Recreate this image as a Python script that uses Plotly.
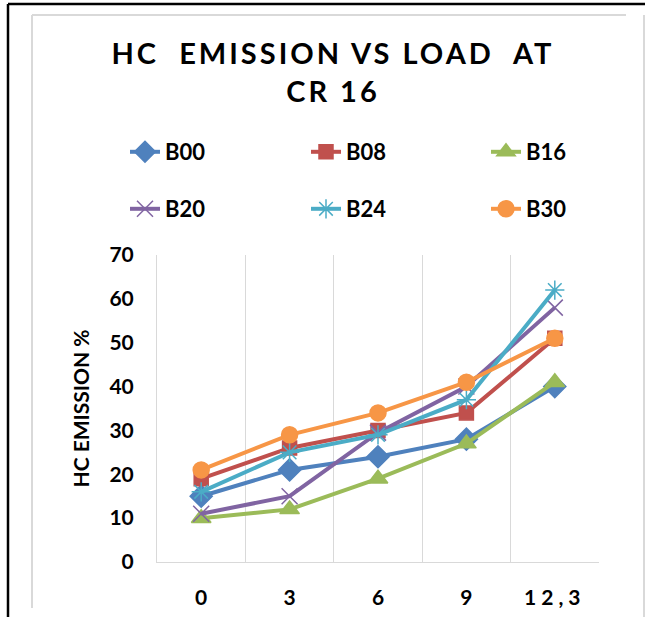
import plotly.graph_objects as go

loads = ["0", "3", "6", "9", "12,3"]
b00 = [15, 21, 24, 28, 40]
b08 = [19, 26, 30, 34, 51]
b16 = [10, 12, 19, 27, 41]
b20 = [11, 15, 29.5, 40, 58]
b24 = [16, 25, 29, 37, 62]
b30 = [21, 29, 34, 41, 51]
y_ticks = [0, 10, 20, 30, 40, 50, 60, 70]

W, H = 645, 617
L, R, T, B = 157, 46, 255, 55
PW, PH = W - L - R, H - T - B
FONT = "Lato"

def px(x):
    return (x - L) / PW

def py(y):
    return (H - B - y) / PH

series = [
    ("B00", b00, "#4F81BD", "diamond", 17),
    ("B08", b08, "#C0504D", "square", 14),
    ("B16", b16, "#9BBB59", "triangle-up", 17),
    ("B20", b20, "#8064A2", "x-thin-open", 16),
    ("B24", b24, "#4BACC6", "asterisk-open", 16),
    ("B30", b30, "#F79646", "circle", 16),
]
# legend item anchor positions (pixels): column x, row y
leg_x = [125, 306, 486, 125, 306, 486]
leg_y = [152, 152, 152, 209, 209, 209]

fig = go.Figure()
legends = {}
for i, (name, vals, col, sym, size) in enumerate(series):
    key = "legend" if i == 0 else f"legend{i + 1}"
    fig.add_trace(go.Scatter(
        x=loads, y=vals, name=name, mode="lines+markers",
        line=dict(color=col, width=4),
        marker=dict(symbol=sym, size=size, color=col,
                    line=dict(color=col, width=1.5)),
        legend=key, showlegend=True,
    ))
    legends[key] = dict(
        orientation="h", xref="container", yref="container",
        xanchor="left", yanchor="middle",
        x=leg_x[i] / W, y=1 - leg_y[i] / H,
        font=dict(family=FONT, size=22, color="black", weight="bold"),
        bgcolor="rgba(0,0,0,0)", itemclick=False, itemdoubleclick=False,
    )

shapes = []
black = dict(color="black", width=2.5)
gray = dict(color="#D9D9D9", width=2)
shapes.append(dict(type="line", xref="paper", yref="paper",
                   x0=px(8), x1=px(8), y0=py(4), y1=py(617), line=black))
shapes.append(dict(type="line", xref="paper", yref="paper",
                   x0=px(8), x1=px(645), y0=py(4), y1=py(4), line=black))
shapes.append(dict(type="line", xref="paper", yref="paper",
                   x0=px(32), x1=px(32), y0=py(15), y1=py(608), line=gray))
shapes.append(dict(type="line", xref="paper", yref="paper",
                   x0=px(32), x1=px(626), y0=py(15), y1=py(15), line=gray))
shapes.append(dict(type="line", xref="paper", yref="paper",
                   x0=px(644), x1=px(644), y0=py(15), y1=py(617), line=gray))

fig.update_layout(
    width=W, height=H, showlegend=True,
    margin=dict(l=L, r=R, t=T, b=B, autoexpand=False),
    paper_bgcolor="white", plot_bgcolor="white",
    title=dict(
        text="HC  EMISSION VS LOAD  AT<br>CR 16",
        x=333 / W, xanchor="center", xref="container",
        y=1 - 64 / H, yanchor="middle", yref="container",
        font=dict(family=FONT, size=29, color="black", weight="bold"),
    ),
    shapes=shapes,
    xaxis=dict(
        type="category", tickson="boundaries", range=[-0.5, 4.5],
        showgrid=True, gridcolor="#D9D9D9", gridwidth=1,
        showline=True, linecolor="#D9D9D9", linewidth=1,
        ticks="", ticklabelstandoff=17,
        tickfont=dict(family=FONT, size=21, color="black", weight="bold"),
    ),
    yaxis=dict(
        range=[0, 70], tickvals=y_ticks, showgrid=False, zeroline=False,
        showline=True, linecolor="#D9D9D9", linewidth=1,
        ticks="", ticklabelstandoff=18,
        tickfont=dict(family=FONT, size=21, color="black", weight="bold"),
        title=dict(text="HC EMISSION %", standoff=14,
                   font=dict(family=FONT, size=21, color="black", weight="bold")),
    ),
    **legends,
)

post = """
var gd = document.getElementById('{plot_id}');
gd.querySelectorAll('.gtitle').forEach(function(t){ t.style.letterSpacing = '3px'; });
gd.querySelectorAll('.xtick text').forEach(function(t){
  if (t.textContent.length > 1) { t.style.letterSpacing = '5px'; }
});
"""
fig.write_html("out.html", post_script=post)
